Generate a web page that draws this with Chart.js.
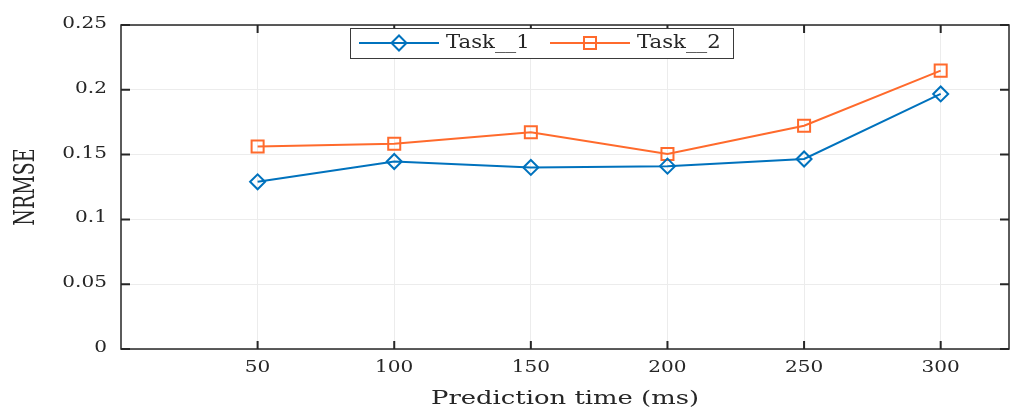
<!DOCTYPE html>
<html>
<head>
<meta charset="utf-8">
<script src="https://cdn.jsdelivr.net/npm/chart.js@4.4.1/dist/chart.umd.min.js"></script>
<style>
  html, body { margin: 0; padding: 0; background: #fff; overflow: hidden; }
</style>
</head>
<body>
<canvas id="c" width="1012" height="410"></canvas>
<script>
// data
const predictionTimes = [50, 100, 150, 200, 250, 300];
const task1 = [0.129, 0.1447, 0.1401, 0.1411, 0.1466, 0.1968];
const task2 = [0.1563, 0.1584, 0.1672, 0.1505, 0.1723, 0.2148];
const xTicks = [50, 100, 150, 200, 250, 300];
const xTickLabels = ['50', '100', '150', '200', '250', '300'];
const yTicks = [0, 0.05, 0.1, 0.15, 0.2, 0.25];
const yTickLabels = ['0', '0.05', '0.1', '0.15', '0.2', '0.25'];
const seriesNames = ['Task__1', 'Task__2'];
const xTitle = 'Prediction time (ms)';
const yTitle = 'NRMSE';

const axisColor = '#262626';
const serif = "'DejaVu Serif', serif";

// the reference text is wide, so draw it with a horizontal stretch
function wideText(ctx, text, x, y, size, sx, align, rot) {
    ctx.save();
    ctx.translate(x, y);
    ctx.scale(sx, 1);
    if (rot) ctx.rotate(rot);
    ctx.font = size + 'px ' + serif;
    ctx.fillStyle = axisColor;
    ctx.textAlign = align;
    ctx.textBaseline = 'middle';
    ctx.fillText(text, 0, 0);
    ctx.restore();
}

// box, inward ticks, tick labels and axis titles
const boxTicks = {
    id: 'boxTicks',
    afterDatasetsDraw(chart) {
        const { ctx, chartArea: a, scales: { x, y } } = chart;
        ctx.save();
        ctx.strokeStyle = axisColor;
        ctx.lineWidth = 1.5;
        ctx.strokeRect(a.left, a.top, a.right - a.left, a.bottom - a.top);
        ctx.lineWidth = 2;
        ctx.beginPath();
        xTicks.forEach(v => {
            const px = x.getPixelForValue(v);
            ctx.moveTo(px, a.bottom); ctx.lineTo(px, a.bottom - 8);
            ctx.moveTo(px, a.top); ctx.lineTo(px, a.top + 8);
        });
        yTicks.forEach(v => {
            const py = y.getPixelForValue(v);
            ctx.moveTo(a.left, py); ctx.lineTo(a.left + 9, py);
            ctx.moveTo(a.right, py); ctx.lineTo(a.right - 9, py);
        });
        ctx.stroke();
        ctx.restore();

        xTicks.forEach((v, i) => {
            wideText(ctx, xTickLabels[i], x.getPixelForValue(v), a.bottom + 19, 17, 1.18, 'center');
        });
        yTicks.forEach((v, i) => {
            wideText(ctx, yTickLabels[i], a.left - 14, y.getPixelForValue(v) - 1.5, 17, 1.18, 'right');
        });
        wideText(ctx, xTitle, (a.left + a.right) / 2, 399, 19, 1.36, 'center');
        wideText(ctx, yTitle, 27, (a.top + a.bottom) / 2, 19, 1.43, 'center', -Math.PI / 2);
    }
};

// matlab-like legend box with line + marker samples
const boxLegend = {
    id: 'boxLegend',
    afterDraw(chart) {
        const ctx = chart.ctx;
        const bx = 350, by = 28, bw = 383, bh = 30;
        ctx.save();
        ctx.fillStyle = '#fff';
        ctx.fillRect(bx, by, bw, bh);
        ctx.strokeStyle = '#3a3a3a';
        ctx.lineWidth = 1;
        ctx.strokeRect(bx + 0.5, by + 0.5, bw, bh);
        const cy = by + 15;
        const starts = [359, 550];
        chart.data.datasets.forEach((ds, i) => {
            const x0 = starts[i];
            ctx.strokeStyle = ds.borderColor;
            ctx.lineWidth = 2;
            ctx.beginPath();
            ctx.moveTo(x0, cy); ctx.lineTo(x0 + 80, cy);
            ctx.stroke();
            ctx.fillStyle = 'rgba(0,0,0,0)';
            Chart.helpers.drawPoint(ctx, {
                pointStyle: ds.pointStyle, radius: ds.pointRadius, borderWidth: 2
            }, x0 + 40, cy);
            wideText(ctx, ds.label, x0 + 87, cy, 18, 1.18, 'left');
        });
        ctx.restore();
    }
};

new Chart(document.getElementById('c'), {
    type: 'line',
    data: {
        datasets: [
            {
                label: seriesNames[0],
                data: predictionTimes.map((t, i) => ({ x: t, y: task1[i] })),
                borderColor: '#0072BD',
                backgroundColor: 'rgba(0,0,0,0)',
                borderWidth: 2,
                pointStyle: 'rectRot',
                pointRadius: 7.5,
                pointBorderWidth: 2,
                pointBackgroundColor: 'rgba(0,0,0,0)',
                tension: 0
            },
            {
                label: seriesNames[1],
                data: predictionTimes.map((t, i) => ({ x: t, y: task2[i] })),
                borderColor: '#FF6A2C',
                backgroundColor: 'rgba(0,0,0,0)',
                borderWidth: 2,
                pointStyle: 'rect',
                pointRadius: 8.5,
                pointBorderWidth: 2,
                pointBackgroundColor: 'rgba(0,0,0,0)',
                tension: 0
            }
        ]
    },
    options: {
        responsive: false,
        animation: false,
        layout: { autoPadding: false, padding: { top: 25, right: 3, left: 0, bottom: 0 } },
        plugins: { legend: { display: false }, tooltip: { enabled: false } },
        scales: {
            x: {
                type: 'linear',
                min: 0, max: 325,
                afterBuildTicks: s => { s.ticks = xTicks.map(v => ({ value: v })); },
                afterFit: s => { s.height = 61; },
                border: { display: false },
                grid: { color: '#ececec', lineWidth: 1, drawTicks: false },
                ticks: { display: false }
            },
            y: {
                min: 0, max: 0.25,
                afterBuildTicks: s => { s.ticks = yTicks.map(v => ({ value: v })); },
                afterFit: s => { s.width = 121; },
                border: { display: false },
                grid: { color: '#ececec', lineWidth: 1, drawTicks: false },
                ticks: { display: false }
            }
        }
    },
    plugins: [boxTicks, boxLegend]
});
</script>
</body>
</html>
